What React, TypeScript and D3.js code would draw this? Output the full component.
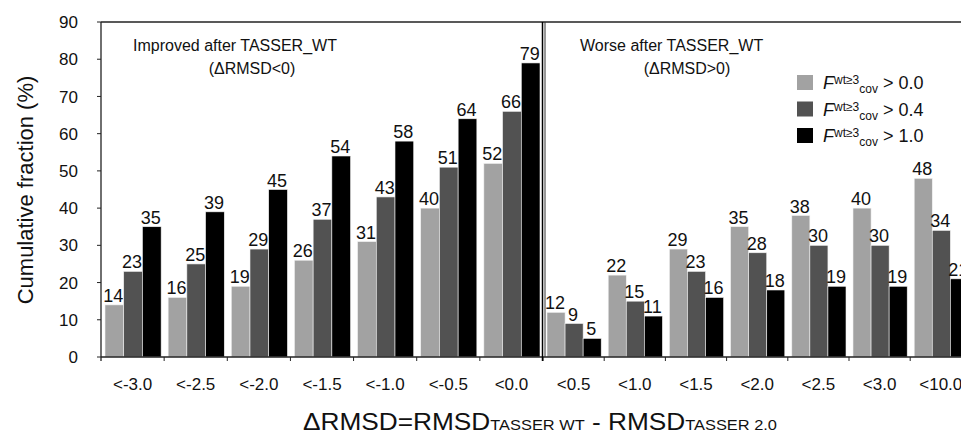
import React, { useEffect, useRef } from "react";
import * as d3 from "d3";

// categories of dRMSD, left panel (improved) and right panel (worse)
const leftCategories = ["<-3.0", "<-2.5", "<-2.0", "<-1.5", "<-1.0", "<-0.5", "<0.0"];
const rightCategories = ["<0.5", "<1.0", "<1.5", "<2.0", "<2.5", "<3.0", "<10.0"];

const seriesNames = ["> 0.0", "> 0.4", "> 1.0"];
const seriesColors = ["#a2a2a2", "#525252", "#000000"];

// cumulative fraction (%) per series
const leftCov00 = [14, 16, 19, 26, 31, 40, 52];
const leftCov04 = [23, 25, 29, 37, 43, 51, 66];
const leftCov10 = [35, 39, 45, 54, 58, 64, 79];
const rightCov00 = [12, 22, 29, 35, 38, 40, 48];
const rightCov04 = [9, 15, 23, 28, 30, 30, 34];
const rightCov10 = [5, 11, 16, 18, 19, 19, 21];

const yTicks = [0, 10, 20, 30, 40, 50, 60, 70, 80, 90];

const FONT = "'Liberation Sans', Arial, sans-serif";

export default function App() {
  const ref = useRef<SVGSVGElement>(null);

  useEffect(() => {
    const width = 961;
    const height = 444;
    const top = 22;
    const bottom = 357;
    const left = 101;
    const split = 543;

    const svg = d3.select(ref.current);
    svg.selectAll("*").remove();
    svg.attr("width", width).attr("height", height).style("font-family", FONT);

    const y = d3.scaleLinear().domain([0, 90]).range([bottom, top]);

    const xLeft = d3.scaleBand().domain(leftCategories).range([left, split]);
    const xRight = d3.scaleBand().domain(rightCategories).range([split, split + 7 * 61.2]);

    const panels = [
      { x: xLeft, cats: leftCategories, vals: [leftCov00, leftCov04, leftCov10] },
      { x: xRight, cats: rightCategories, vals: [rightCov00, rightCov04, rightCov10] },
    ];

    panels.forEach((p) => {
      const bw = p.x.bandwidth();
      const inner = d3.scaleBand<number>().domain([0, 1, 2]).range([4, bw - 3]);

      p.vals.forEach((vals, s) => {
        const g = svg.append("g");
        g.selectAll("rect")
          .data(vals)
          .enter()
          .append("rect")
          .attr("x", (d, i) => (p.x(p.cats[i]) as number) + (inner(s) as number))
          .attr("y", (d) => y(d))
          .attr("width", inner.bandwidth())
          .attr("height", (d) => bottom - y(d))
          .attr("fill", seriesColors[s])
          .attr("stroke", "#f2f2f2")
          .attr("stroke-width", 0.6);

        // value labels above bars
        g.selectAll("text")
          .data(vals)
          .enter()
          .append("text")
          .text((d) => d)
          .attr("x", (d, i) => (p.x(p.cats[i]) as number) + (inner(s) as number) + inner.bandwidth() / 2 - 1)
          .attr("y", (d) => y(d) - 3)
          .attr("text-anchor", "middle")
          .attr("font-size", 18)
          .attr("fill", "#111");
      });

      // x tick labels
      svg.append("g")
        .selectAll("text")
        .data(p.cats)
        .enter()
        .append("text")
        .text((d) => d)
        .attr("x", (d) => (p.x(d) as number) + bw / 2)
        .attr("y", 390)
        .attr("text-anchor", "middle")
        .attr("font-size", 17)
        .attr("fill", "#111");

      // tick marks on bottom axis
      svg.append("g")
        .selectAll("line")
        .data(p.cats)
        .enter()
        .append("line")
        .attr("x1", (d) => (p.x(d) as number) + bw)
        .attr("x2", (d) => (p.x(d) as number) + bw)
        .attr("y1", bottom)
        .attr("y2", bottom + 4)
        .attr("stroke", "#222");
    });

    // frame: top border, left axis, bottom axis
    svg.append("line").attr("x1", left).attr("x2", width).attr("y1", top).attr("y2", top)
      .attr("stroke", "#222").attr("stroke-width", 1.3);
    svg.append("line").attr("x1", left).attr("x2", width).attr("y1", bottom).attr("y2", bottom)
      .attr("stroke", "#222").attr("stroke-width", 1.3);
    svg.append("line").attr("x1", left).attr("x2", left).attr("y1", top).attr("y2", bottom + 4)
      .attr("stroke", "#222").attr("stroke-width", 1.3);

    // divider between panels (double line)
    svg.append("line").attr("x1", split - 0.5).attr("x2", split - 0.5).attr("y1", top).attr("y2", bottom + 4)
      .attr("stroke", "#000").attr("stroke-width", 1.5);
    svg.append("line").attr("x1", split + 2).attr("x2", split + 2).attr("y1", top).attr("y2", bottom)
      .attr("stroke", "#333").attr("stroke-width", 1);

    // y axis ticks and labels
    const ya = svg.append("g");
    ya.selectAll("line")
      .data(yTicks)
      .enter()
      .append("line")
      .attr("x1", left - 4)
      .attr("x2", left)
      .attr("y1", (d) => y(d))
      .attr("y2", (d) => y(d))
      .attr("stroke", "#222");
    ya.selectAll("text")
      .data(yTicks)
      .enter()
      .append("text")
      .text((d) => d)
      .attr("x", 78)
      .attr("y", (d) => y(d))
      .attr("dy", "0.36em")
      .attr("text-anchor", "end")
      .attr("font-size", 17)
      .attr("fill", "#111");

    // y axis title
    svg.append("text")
      .text("Cumulative fraction (%)")
      .attr("transform", "translate(33,190) rotate(-90)")
      .attr("text-anchor", "middle")
      .attr("font-size", 22)
      .attr("fill", "#111");

    // panel titles
    const titles = [
      { t: "Improved after TASSER_WT", x: 133, y: 51, anchor: "start" },
      { t: "(\u0394RMSD<0)", x: 252, y: 74, anchor: "middle" },
      { t: "Worse after TASSER_WT", x: 580, y: 51, anchor: "start" },
      { t: "(\u0394RMSD>0)", x: 687, y: 74, anchor: "middle" },
    ];
    titles.forEach((d) => {
      svg.append("text")
        .text(d.t)
        .attr("x", d.x)
        .attr("y", d.y)
        .attr("text-anchor", d.anchor)
        .attr("font-size", 16)
        .attr("fill", "#111");
    });

    // legend
    const legend = svg.append("g").attr("transform", "translate(797,75)");
    seriesNames.forEach((name, i) => {
      const row = legend.append("g").attr("transform", `translate(0,${i * 26.5})`);
      row.append("rect").attr("width", 16).attr("height", 15).attr("fill", seriesColors[i]);
      const t = row.append("text").attr("x", 26).attr("y", 14).attr("font-size", 18).attr("fill", "#111");
      t.append("tspan").text("F").attr("font-style", "italic");
      t.append("tspan").text("wt\u22653").attr("font-size", 12).attr("dy", -5);
      t.append("tspan").text("cov").attr("font-size", 12).attr("dy", 9);
      t.append("tspan").text(" " + name).attr("dy", -4);
    });

    // x axis title
    const xt = svg.append("text")
      .attr("x", 303)
      .attr("y", 430)
      .attr("font-size", 24)
      .attr("fill", "#111")
      .attr("textLength", 474)
      .attr("lengthAdjust", "spacingAndGlyphs");
    xt.append("tspan").text("\u0394RMSD=RMSD");
    xt.append("tspan").text("TASSER WT").attr("font-size", 15);
    xt.append("tspan").text(" - RMSD");
    xt.append("tspan").text("TASSER 2.0").attr("font-size", 15);
  }, []);

  return (
    <svg ref={ref} style={{ position: "absolute", left: 0, top: 0, background: "#fff" }} />
  );
}
